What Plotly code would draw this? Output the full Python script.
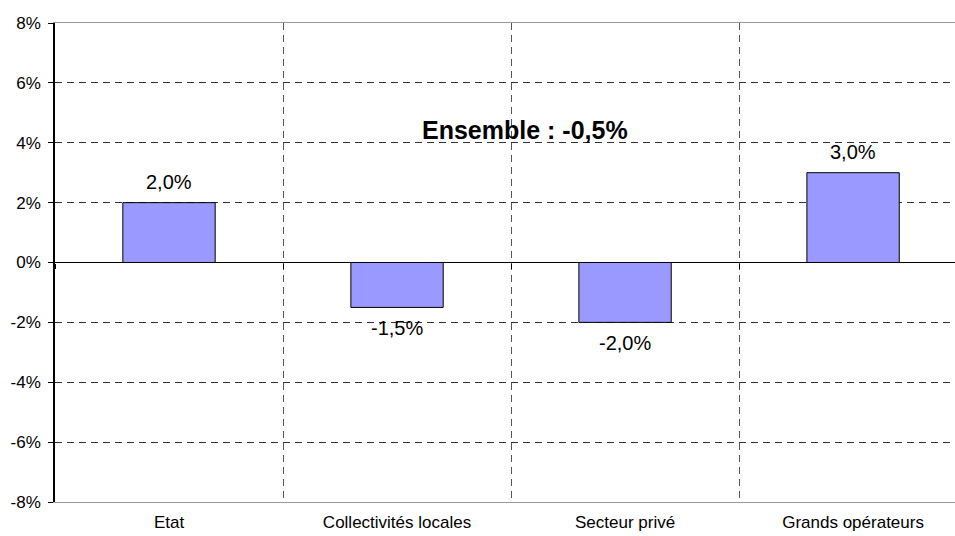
import plotly.graph_objects as go

# Évolution par catégorie d'employeur (en %)
categories = ["Etat", "Collectivités locales", "Secteur privé", "Grands opérateurs"]
evolution = [2.0, -1.5, -2.0, 3.0]
ensemble = -0.5

y_tick_values = [-8, -6, -4, -2, 0, 2, 4, 6, 8]
y_tick_labels = ["-8%", "-6%", "-4%", "-2%", "0%", "2%", "4%", "6%", "8%"]

FONT = "Liberation Sans, Arial, sans-serif"
X_RANGE = [-0.5, 3.447]


def fmt_pct(v):
    return f"{v:.1f}".replace(".", ",") + "%"


fig = go.Figure()

fig.add_trace(go.Bar(
    x=categories,
    y=evolution,
    width=0.405,
    marker=dict(color="#9999FF", line=dict(color="#000000", width=1)),
    hoverinfo="x+y",
    showlegend=False,
))

# invisible companion trace so the crossing tick marks on the zero axis render
fig.add_trace(go.Scatter(
    x=categories,
    y=evolution,
    xaxis="x2",
    mode="markers",
    marker=dict(opacity=0),
    hoverinfo="skip",
    showlegend=False,
))

# value labels above / below each bar
for cat, v in zip(categories, evolution):
    fig.add_annotation(
        x=cat, y=v, text=fmt_pct(v), showarrow=False,
        yshift=21 if v >= 0 else -21,
        font=dict(family=FONT, size=20, color="#000000"),
    )

fig.add_annotation(
    xref="paper", yref="paper", x=0.5222, y=0.81,
    text="<b>Ensemble : " + fmt_pct(ensemble) + "</b>",
    showarrow=False,
    font=dict(family=FONT, size=25, color="#000000"),
)

grid_dash = "7px,5px"

fig.update_layout(
    width=955,
    height=536,
    margin=dict(l=55, r=0, t=23, b=34),
    paper_bgcolor="#FFFFFF",
    plot_bgcolor="#FFFFFF",
    font=dict(family=FONT, size=17, color="#000000"),
    xaxis=dict(
        categoryorder="array",
        categoryarray=categories,
        range=X_RANGE,
        tickson="boundaries",
        showgrid=True,
        gridcolor="#555555",
        griddash=grid_dash,
        gridwidth=1,
        ticks="",
        showline=True,
        linecolor="#9A9A9A",
        linewidth=1,
        mirror=True,
        tickfont=dict(family=FONT, size=17, color="#000000"),
        ticklabelstandoff=5,
        fixedrange=True,
    ),
    xaxis2=dict(
        overlaying="x",
        anchor="free",
        position=0.5,
        side="bottom",
        categoryorder="array",
        categoryarray=categories,
        range=X_RANGE,
        tickson="boundaries",
        ticks="outside",
        ticklen=5,
        tickcolor="#000000",
        showticklabels=False,
        showgrid=False,
        showline=False,
        zeroline=False,
        fixedrange=True,
    ),
    yaxis=dict(
        range=[-8, 8],
        tickvals=y_tick_values,
        ticktext=y_tick_labels,
        showgrid=True,
        gridcolor="#333333",
        griddash=grid_dash,
        gridwidth=1,
        zeroline=True,
        zerolinecolor="#000000",
        zerolinewidth=1,
        showline=True,
        linecolor="#000000",
        linewidth=1.5,
        ticks="outside",
        ticklen=5,
        tickcolor="#000000",
        tickfont=dict(family=FONT, size=17, color="#000000"),
        ticklabelstandoff=4,
        fixedrange=True,
    ),
)

fig.write_html("out.html")
